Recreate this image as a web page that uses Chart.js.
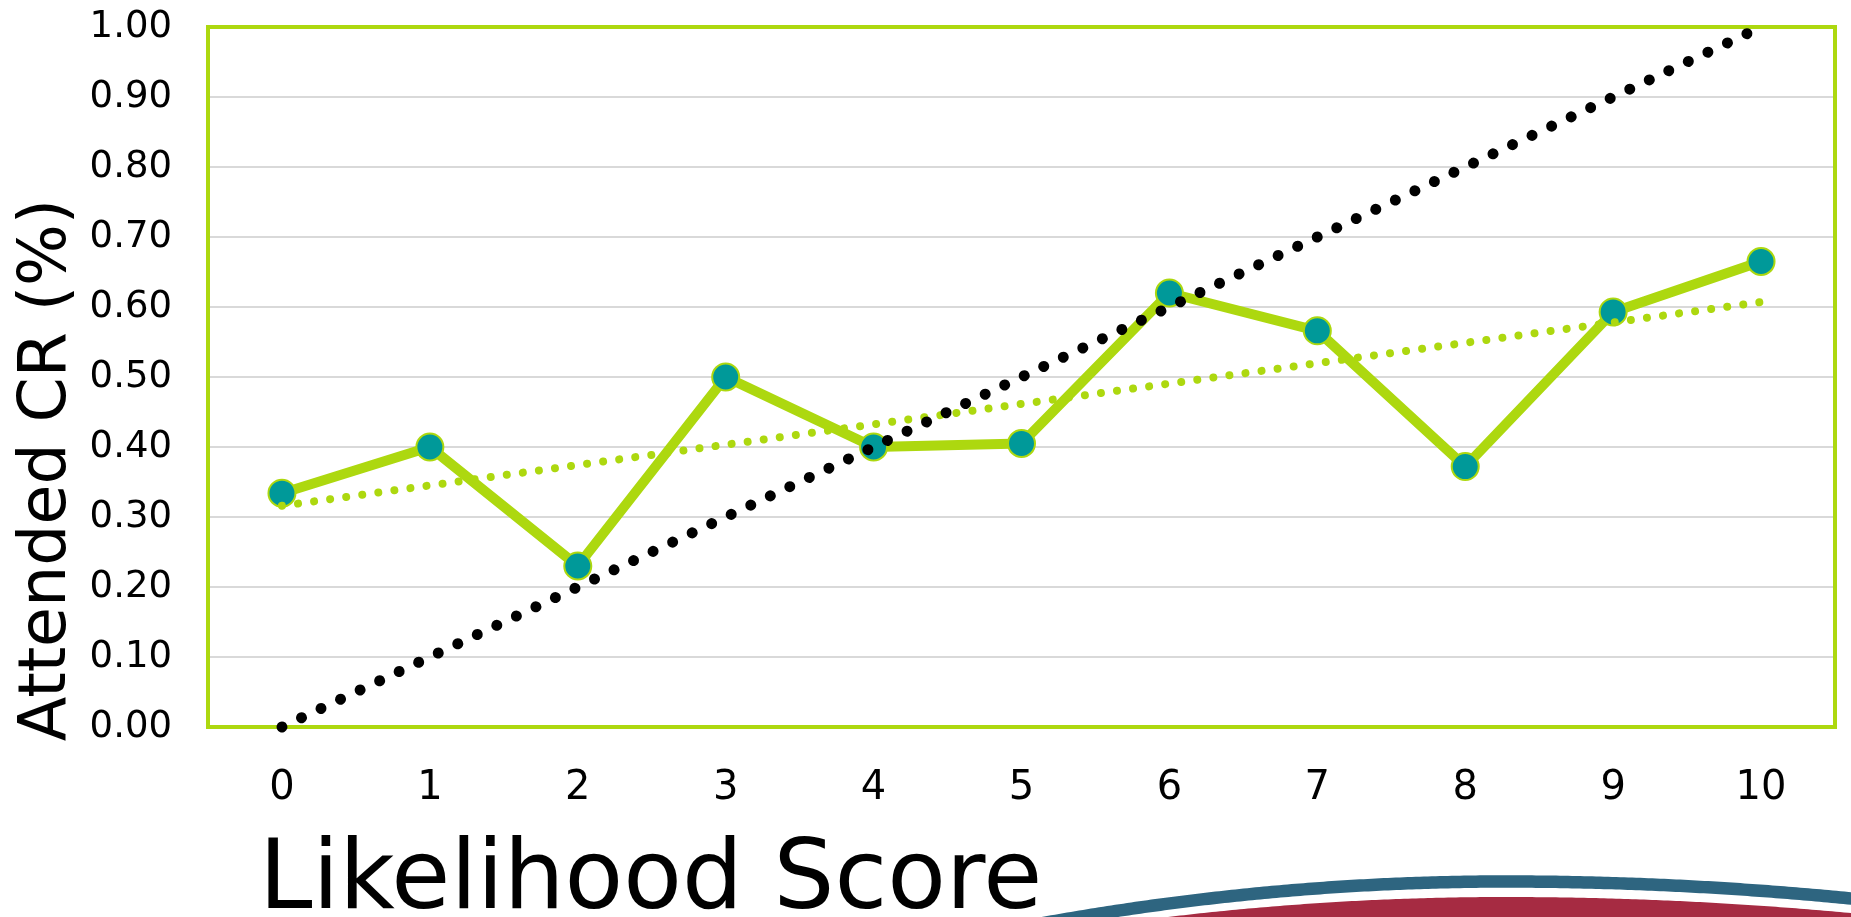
<!DOCTYPE html>
<html>
<head>
<meta charset="utf-8">
<script src="https://cdn.jsdelivr.net/npm/chart.js@4/dist/chart.umd.min.js"></script>
<style>
  html, body { margin: 0; padding: 0; background: #ffffff; overflow: hidden; }
  canvas { display: block; }
</style>
</head>
<body>
<canvas id="chart" width="1851" height="917"></canvas>
<script>
// Likelihood score categories on the x axis
const scores = ['0', '1', '2', '3', '4', '5', '6', '7', '8', '9', '10'];

// Attended conversion rate for each likelihood score
const attendedCR = [0.334, 0.400, 0.230, 0.500, 0.400, 0.405, 0.620, 0.566, 0.372, 0.593, 0.665];

// Linear trend of the attended rate (end points only)
const trendCR = [0.316, null, null, null, null, null, null, null, null, null, 0.607];

// Perfect-calibration reference line (end points only)
const parityCR = [0.00, null, null, null, null, null, null, null, null, null, 1.00];

// Axis titles
const xTitle = 'Likelihood Score';
const yTitle = 'Attended CR (%)';

const LIME = '#ADD80F';
const TEAL = '#009999';
const FONT = '"DejaVu Sans", Verdana, sans-serif';

// Lime frame around the plotting area, drawn under the lines
const framePlugin = {
  id: 'frame',
  beforeDatasetsDraw(chart) {
    const { ctx, chartArea: a } = chart;
    ctx.save();
    ctx.strokeStyle = LIME;
    ctx.lineWidth = 4;
    ctx.strokeRect(a.left, a.top, a.right - a.left, a.bottom - a.top);
    ctx.restore();
  }
};

// Axis titles and the slide's swoosh in the lower right corner
const decorPlugin = {
  id: 'decor',
  afterDraw(chart) {
    const { ctx, width, height } = chart;
    ctx.save();

    // swoosh: red sweep with a blue band above it
    const peakX = 1505;
    const curve = (x, peakY, kl, kr) => {
      const d = x - peakX;
      return peakY + (d < 0 ? kl : kr) * d * d;
    };
    ctx.fillStyle = '#A62B42';
    ctx.beginPath();
    ctx.moveTo(1140, height + 2);
    for (let x = 1140; x <= width; x += 4) ctx.lineTo(x, curve(x, 897, 1.76e-4, 1.34e-4));
    ctx.lineTo(width, curve(width, 897, 1.76e-4, 1.34e-4));
    ctx.lineTo(width, height + 2);
    ctx.closePath();
    ctx.fill();

    ctx.strokeStyle = '#2E6580';
    ctx.lineWidth = 12.5;
    ctx.beginPath();
    for (let x = 1000; x <= width + 4; x += 4) {
      const y = curve(x, 881.5, 1.95e-4, 1.42e-4);
      if (x === 1000) ctx.moveTo(x, y); else ctx.lineTo(x, y);
    }
    ctx.stroke();

    // x axis title
    ctx.fillStyle = '#000000';
    ctx.font = '96px ' + FONT;
    ctx.textAlign = 'left';
    ctx.textBaseline = 'alphabetic';
    ctx.fillText(xTitle, 259, 908);

    // y axis title
    ctx.font = '65px ' + FONT;
    ctx.translate(65, 470);
    ctx.rotate(-Math.PI / 2);
    ctx.textAlign = 'center';
    ctx.fillText(yTitle, 0, 0);
    ctx.restore();
  }
};

new Chart(document.getElementById('chart'), {
  type: 'line',
  data: {
    labels: scores,
    datasets: [
      {
        label: 'Parity',
        data: parityCR,
        order: 0,
        spanGaps: true,
        borderColor: '#000000',
        borderWidth: 11,
        borderCapStyle: 'round',
        borderDash: [0.01, 21.6],
        pointRadius: 0,
        pointHoverRadius: 0,
        fill: false,
        clip: false
      },
      {
        label: 'Trend',
        data: trendCR,
        order: 1,
        spanGaps: true,
        borderColor: LIME,
        borderWidth: 8,
        borderCapStyle: 'round',
        borderDash: [0.01, 16.2],
        pointRadius: 0,
        pointHoverRadius: 0,
        fill: false,
        clip: false
      },
      {
        label: 'Attended CR',
        data: attendedCR,
        order: 2,
        borderColor: LIME,
        borderWidth: 10,
        borderJoinStyle: 'round',
        tension: 0,
        pointRadius: 13.5,
        pointHoverRadius: 13.5,
        pointBorderWidth: 2,
        pointHoverBorderWidth: 2,
        pointBackgroundColor: TEAL,
        pointBorderColor: LIME,
        fill: false,
        clip: false
      }
    ]
  },
  options: {
    responsive: false,
    devicePixelRatio: 1,
    animation: false,
    events: [],
    layout: { padding: { top: 27, right: 16, left: 0, bottom: 0 } },
    plugins: {
      legend: { display: false },
      title: { display: false },
      tooltip: { enabled: false }
    },
    scales: {
      x: {
        type: 'category',
        offset: true,
        grid: { display: false, drawTicks: false },
        border: { display: false },
        ticks: {
          color: '#000000',
          font: { family: FONT, size: 40 },
          padding: 38,
          maxRotation: 0,
          autoSkip: false
        },
        afterFit(scale) {
          scale.height = 190;
          scale.paddingLeft = 0;
          scale.paddingRight = 0;
        }
      },
      y: {
        min: 0,
        max: 1,
        grid: { color: '#D9D9D9', lineWidth: 2, drawTicks: false },
        border: { display: false },
        ticks: {
          stepSize: 0.1,
          color: '#000000',
          font: { family: FONT, size: 37 },
          padding: 36,
          callback: (v) => Number(v).toFixed(2)
        },
        afterFit(scale) {
          scale.width = 208;
          scale.paddingTop = 0;
          scale.paddingBottom = 0;
        }
      }
    }
  },
  plugins: [framePlugin, decorPlugin]
});
</script>
</body>
</html>
